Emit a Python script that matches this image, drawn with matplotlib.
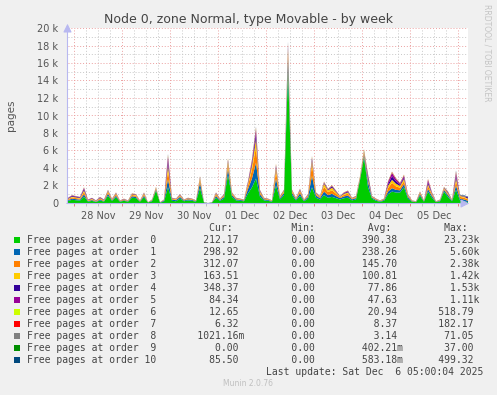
import matplotlib
matplotlib.use('Agg')
import matplotlib.pyplot as plt
import matplotlib.dates as mdates
import matplotlib.ticker as mticker
from matplotlib.patches import Rectangle
import pandas as pd

# free pages per order, 2 hour samples
order0 = [240, 360, 320, 280, 720, 160, 240, 120, 280, 160,
          825, 250, 660, 150, 250, 150, 605, 550, 150, 660,
          60, 200, 1400, 50, 150, 1800, 250, 200, 500, 200,
          300, 250, 150, 1700, 50, 0, 50, 600, 250, 500,
          3200, 700, 300, 250, 200, 1100, 1800, 2800, 700, 300,
          250, 150, 2000, 400, 900, 15000, 900, 300, 800, 200,
          500, 1800, 600, 400, 900, 600, 700, 550, 400, 550,
          600, 300, 400, 2600, 5200, 1800, 500, 250, 150, 250,
          1000, 1300, 1200, 1200, 1800, 500, 150, 100, 800, 150,
          1300, 600, 100, 200, 1300, 700, 200, 1500, 300, 200,
          100]
order1 = [90, 135, 120, 105, 270, 60, 90, 45, 105, 60,
          225, 75, 180, 45, 75, 45, 165, 150, 45, 180,
          20, 80, 150, 20, 120, 900, 150, 120, 200, 80,
          120, 100, 60, 600, 20, 0, 20, 200, 100, 200,
          700, 200, 120, 100, 80, 500, 1000, 1800, 300, 120,
          100, 60, 800, 160, 250, 1500, 250, 120, 300, 80,
          200, 1300, 250, 160, 400, 300, 350, 250, 160, 200,
          250, 120, 160, 150, 300, 600, 120, 100, 60, 100,
          300, 400, 300, 250, 350, 200, 60, 40, 200, 60,
          300, 200, 40, 80, 200, 200, 80, 500, 200, 200,
          150]
order2 = [90, 135, 120, 105, 270, 60, 90, 45, 105, 60,
          195, 65, 156, 39, 65, 39, 143, 130, 39, 156,
          10, 50, 100, 12, 50, 1000, 80, 70, 120, 50,
          70, 60, 40, 350, 12, 0, 12, 180, 60, 120,
          450, 140, 70, 60, 50, 400, 1000, 1800, 200, 70,
          60, 40, 800, 100, 150, 700, 150, 70, 220, 50,
          120, 1300, 160, 100, 550, 350, 400, 280, 100, 180,
          220, 70, 100, 100, 200, 200, 70, 60, 40, 60,
          400, 600, 400, 300, 350, 120, 40, 25, 130, 40,
          350, 150, 25, 50, 120, 130, 50, 500, 200, 200,
          160]
order3 = [60, 90, 80, 70, 180, 40, 60, 30, 70, 40,
          120, 40, 96, 24, 40, 24, 88, 80, 24, 96,
          5, 30, 70, 8, 30, 600, 50, 50, 80, 30,
          50, 40, 25, 180, 8, 0, 8, 100, 40, 80,
          350, 80, 50, 40, 30, 200, 500, 900, 120, 50,
          40, 25, 400, 60, 100, 400, 100, 50, 130, 30,
          80, 400, 90, 60, 350, 200, 300, 180, 60, 120,
          140, 50, 60, 60, 120, 150, 50, 40, 25, 40,
          250, 350, 300, 200, 250, 80, 25, 15, 80, 25,
          200, 100, 15, 30, 80, 100, 30, 300, 100, 120,
          90]
order4 = [60, 90, 80, 70, 180, 40, 60, 30, 70, 40,
          60, 30, 48, 18, 30, 18, 44, 40, 18, 48,
          3, 20, 40, 5, 25, 500, 35, 30, 50, 20,
          30, 25, 15, 80, 5, 0, 5, 60, 25, 50,
          150, 40, 30, 25, 20, 120, 300, 600, 80, 30,
          25, 15, 200, 40, 50, 250, 50, 30, 80, 20,
          50, 250, 50, 40, 100, 80, 150, 80, 40, 80,
          100, 30, 40, 40, 80, 350, 30, 25, 15, 25,
          200, 400, 300, 150, 200, 50, 15, 10, 50, 15,
          250, 80, 10, 20, 50, 100, 20, 300, 50, 50,
          150]
order5 = [42, 63, 56, 49, 126, 28, 42, 21, 49, 28,
          45, 25, 36, 15, 25, 15, 33, 30, 15, 36,
          2, 15, 30, 3, 20, 500, 25, 20, 40, 15,
          20, 20, 10, 60, 3, 0, 3, 40, 20, 40,
          100, 30, 20, 20, 15, 100, 250, 500, 60, 20,
          20, 10, 150, 30, 40, 200, 40, 20, 60, 15,
          40, 150, 40, 30, 80, 60, 80, 50, 30, 60,
          80, 20, 30, 30, 50, 150, 20, 20, 10, 20,
          250, 400, 250, 150, 200, 40, 10, 8, 30, 10,
          250, 60, 8, 15, 40, 60, 15, 300, 30, 20,
          40]
order6 = [12, 18, 16, 14, 36, 8, 12, 6, 14, 8,
          30, 10, 24, 6, 10, 6, 22, 20, 6, 24,
          2, 8, 36, 2, 8, 100, 12, 10, 20, 8,
          12, 10, 6, 60, 2, 0, 2, 24, 10, 20,
          100, 24, 12, 10, 8, 40, 60, 120, 30, 12,
          10, 6, 88, 16, 30, 80, 30, 12, 32, 8,
          20, 100, 24, 16, 48, 32, 40, 28, 16, 24,
          28, 12, 16, 60, 120, 66, 16, 10, 6, 10,
          40, 60, 50, 40, 60, 20, 6, 4, 26, 6,
          50, 24, 4, 8, 36, 26, 8, 50, 18, 16,
          13]
order7 = [5, 7, 6, 6, 14, 3, 5, 2, 6, 3,
          12, 4, 10, 2, 4, 2, 9, 8, 2, 10,
          1, 3, 14, 1, 3, 60, 5, 4, 8, 3,
          5, 4, 2, 24, 1, 0, 1, 10, 4, 8,
          40, 10, 5, 4, 3, 30, 40, 80, 12, 5,
          4, 2, 35, 6, 12, 50, 12, 5, 13, 3,
          8, 40, 10, 6, 19, 13, 16, 11, 6, 10,
          11, 5, 6, 24, 48, 26, 6, 4, 2, 4,
          30, 50, 30, 20, 26, 8, 2, 2, 10, 2,
          40, 10, 2, 3, 14, 10, 3, 100, 7, 6,
          6]
order8 = [2, 3, 2, 2, 5, 1, 2, 1, 2, 1,
          4, 2, 4, 1, 2, 1, 3, 3, 1, 4,
          0, 1, 5, 0, 1, 80, 2, 2, 3, 1,
          2, 2, 1, 9, 0, 0, 0, 4, 2, 3,
          15, 4, 2, 2, 1, 10, 30, 70, 5, 2,
          2, 1, 13, 2, 5, 150, 5, 2, 5, 1,
          3, 20, 4, 2, 7, 5, 6, 4, 2, 4,
          4, 2, 2, 9, 18, 10, 2, 2, 1, 2,
          10, 20, 10, 7, 10, 3, 1, 1, 4, 1,
          15, 4, 1, 1, 5, 4, 1, 100, 3, 2,
          1]
order9 = [0, 0, 0, 0, 1, 0, 0, 0, 0, 0,
          1, 0, 0, 0, 0, 0, 0, 0, 0, 1,
          0, 0, 1, 0, 0, 20, 0, 0, 0, 0,
          0, 0, 0, 2, 0, 0, 0, 0, 0, 0,
          3, 0, 0, 0, 0, 2, 10, 20, 1, 0,
          0, 0, 3, 0, 1, 20, 1, 0, 1, 0,
          0, 5, 0, 0, 1, 1, 1, 0, 0, 0,
          1, 0, 0, 2, 5, 3, 0, 0, 0, 0,
          2, 3, 2, 1, 2, 0, 0, 0, 1, 0,
          2, 1, 0, 0, 1, 1, 0, 5, 0, 0,
          0]
order10 = [0, 1, 0, 0, 2, 0, 0, 0, 0, 0,
           1, 0, 1, 0, 0, 0, 1, 1, 0, 1,
           0, 0, 1, 0, 0, 40, 0, 0, 1, 0,
           0, 0, 0, 3, 0, 0, 0, 1, 0, 1,
           5, 1, 0, 0, 0, 3, 15, 40, 1, 0,
           0, 0, 4, 1, 1, 100, 1, 0, 1, 0,
           1, 10, 1, 1, 2, 1, 2, 1, 1, 1,
           1, 0, 1, 3, 8, 5, 1, 0, 0, 0,
           3, 5, 3, 2, 3, 1, 0, 0, 1, 0,
           3, 1, 0, 0, 2, 1, 0, 50, 40, 60,
           40]

labels = ['Free pages at order  0', 'Free pages at order  1', 'Free pages at order  2',
          'Free pages at order  3', 'Free pages at order  4', 'Free pages at order  5',
          'Free pages at order  6', 'Free pages at order  7', 'Free pages at order  8',
          'Free pages at order  9', 'Free pages at order 10']
colors = ['#00CC00', '#0066B3', '#FF8000', '#FFCC00', '#330099', '#990099',
          '#CCFF00', '#FF0000', '#808080', '#008F00', '#00487D']
cur = ['212.17', '298.92', '312.07', '163.51', '348.37', '84.34', '12.65', '6.32',
       '1021.16m', '0.00', '85.50']
mins = ['0.00'] * 11
avg = ['390.38', '238.26', '145.70', '100.81', '77.86', '47.63', '20.94', '8.37',
       '3.14', '402.21m', '583.18m']
mx = ['23.23k', '5.60k', '2.38k', '1.42k', '1.53k', '1.11k', '518.79', '182.17',
      '71.05', '37.00', '499.32']

series = [order0, order1, order2, order3, order4, order5, order6, order7, order8, order9, order10]
times = pd.date_range('2025-11-27 21:00', periods=len(order0), freq='2h')

W, H = 497, 395
fig = plt.figure(figsize=(W / 100, H / 100), dpi=100, facecolor='#F0F0F0')
ax = fig.add_axes([68 / W, 1 - 203 / H, 400 / W, 175 / H])
ax.set_facecolor('white')

ax.stackplot(times, *series, colors=colors, linewidth=0)
ax.set_xlim(times[0], times[-1])
ax.set_ylim(0, 20000)

# grid
ax.yaxis.set_major_locator(mticker.MultipleLocator(2000))
ax.yaxis.set_minor_locator(mticker.MultipleLocator(1000))
ax.yaxis.set_major_formatter(mticker.FuncFormatter(lambda v, p: '0' if v == 0 else '%d k' % (v / 1000)))
ax.xaxis.set_major_locator(mdates.DayLocator())
ax.xaxis.set_major_formatter(mticker.NullFormatter())
ax.xaxis.set_minor_locator(mdates.HourLocator(byhour=[6, 12, 18]))


def day_label(v, p):
    d = mdates.num2date(v)
    return d.strftime('%d %b') if d.hour == 12 else ''


ax.xaxis.set_minor_formatter(mticker.FuncFormatter(day_label))
ax.grid(which='minor', color='#C8C8C8', linestyle=(0, (1, 2)), linewidth=0.7)
ax.grid(which='major', color='#EBA0A0', linestyle=(0, (1, 2)), linewidth=0.7)
ax.set_axisbelow(True)
ax.tick_params(which='both', length=0, labelsize=7, labelcolor='#555555')
ax.tick_params(axis='y', which='major', pad=7)
ax.tick_params(axis='x', which='major', length=2, width=0.7, color='#E08080')
ax.tick_params(axis='x', which='minor', length=2, width=0.7, color='#C0C0C0', pad=4)
for s in ax.spines.values():
    s.set_visible(False)

# axis lines with arrows
ax.annotate('', xy=(472 / W, 1 - 203.5 / H), xytext=(64 / W, 1 - 203.5 / H), xycoords='figure fraction',
            arrowprops=dict(arrowstyle='-|>,head_length=0.5,head_width=0.25', color='#B8B8F0', lw=0.8))
ax.annotate('', xy=(67.5 / W, 1 - 21 / H), xytext=(67.5 / W, 1 - 206 / H), xycoords='figure fraction',
            arrowprops=dict(arrowstyle='-|>,head_length=0.5,head_width=0.25', color='#B8B8F0', lw=0.8))

fig.text(0.5, 1 - 19 / H, 'Node 0, zone Normal, type Movable - by week', ha='center', va='center',
         fontsize=9, color='#444444')
fig.text(11 / W, 1 - 115 / H, 'pages', rotation=90, ha='center', va='center', fontsize=7.5, color='#555555')
fig.text(487 / W, 1 - 53 / H, 'RRDTOOL / TOBI OETIKER', rotation=270, ha='center', va='center',
         fontsize=5.5, color='#C4C4C4')

# legend table
mono = 'DejaVu Sans Mono'
fs = 7


def split_unit(s):
    if s[-1].isalpha():
        return s[:-1], s[-1]
    return s, ' '


header = ' ' * 31 + 'Cur:' + ' ' * 10 + 'Min:' + ' ' * 9 + 'Avg:' + ' ' * 9 + 'Max:'
fig.text(27 / W, 1 - 228 / H, header, ha='left', va='center', fontsize=fs, family=mono, color='#444444')
for k in range(11):
    y = 240 + 12 * k
    line = labels[k]
    for val, width in ((cur[k], 14), (mins[k], 12), (avg[k], 13), (mx[k], 12)):
        num, unit = split_unit(val)
        line += num.rjust(width) + unit
    fig.text(27 / W, 1 - y / H, line, ha='left', va='center', fontsize=fs, family=mono, color='#444444')
    fig.patches.append(Rectangle((14 / W, 1 - (y + 3) / H), 6 / W, 6 / H, transform=fig.transFigure,
                                 facecolor=colors[k], edgecolor='none'))

fig.text(483 / W, 1 - 372 / H, 'Last update: Sat Dec  6 05:00:04 2025', ha='right', va='center',
         fontsize=fs, family=mono, color='#444444')
fig.text(248 / W, 1 - 384 / H, 'Munin 2.0.76', ha='center', va='center', fontsize=5.5, color='#C0C0C0')

fig.savefig('out.png', dpi=100, facecolor=fig.get_facecolor())
